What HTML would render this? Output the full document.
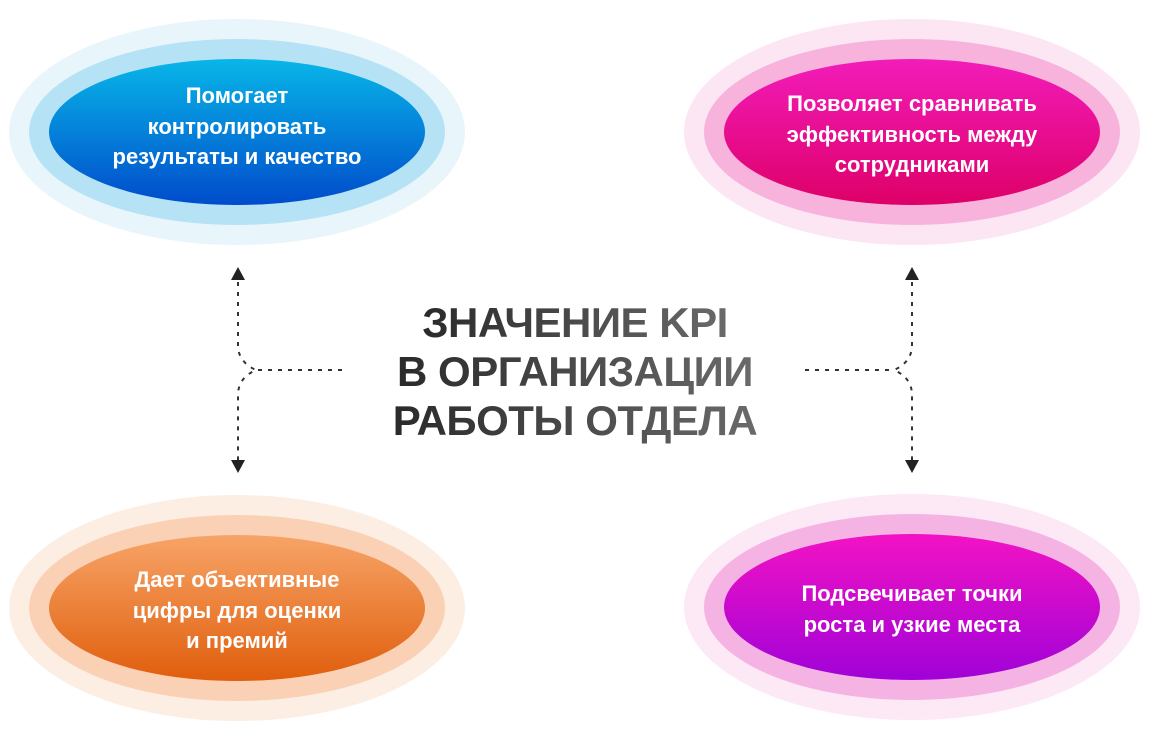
<!DOCTYPE html>
<html><head><meta charset="utf-8"><style>
html,body{margin:0;padding:0;background:#fff;}
svg{display:block;}
.t{font-family:"Liberation Sans",sans-serif;font-weight:bold;fill:#fff;font-size:22px;text-anchor:middle;}
.h{font-family:"Liberation Sans",sans-serif;font-weight:bold;font-size:42px;text-anchor:middle;letter-spacing:-0.5px;}
</style></head><body>
<svg width="1150" height="740" viewBox="0 0 1150 740">
<defs>
<linearGradient id="gb" x1="0" y1="0" x2="0" y2="1"><stop offset="0" stop-color="#08b6e8"/><stop offset="1" stop-color="#004ccb"/></linearGradient>
<linearGradient id="gp" x1="0" y1="0" x2="0" y2="1"><stop offset="0" stop-color="#f21cba"/><stop offset="1" stop-color="#de0068"/></linearGradient>
<linearGradient id="go" x1="0" y1="0" x2="0" y2="1"><stop offset="0" stop-color="#f7a468"/><stop offset="1" stop-color="#e05e0c"/></linearGradient>
<linearGradient id="gv" x1="0" y1="0" x2="0" y2="1"><stop offset="0" stop-color="#f312c4"/><stop offset="1" stop-color="#a002d8"/></linearGradient>
<linearGradient id="gt" x1="0" y1="0" x2="1" y2="0"><stop offset="0" stop-color="#2a2a2a"/><stop offset="1" stop-color="#6a6a6a"/></linearGradient>
</defs>
<ellipse cx="237" cy="132" rx="228" ry="113" fill="#e8f6fc"/>
<ellipse cx="237" cy="132" rx="208" ry="93" fill="#b5e3f5"/>
<ellipse cx="237" cy="132" rx="188" ry="73" fill="url(#gb)"/>
<text class="t" x="237" y="103">Помогает</text>
<text class="t" x="237" y="134">контролировать</text>
<text class="t" x="237" y="164">результаты и качество</text>
<ellipse cx="912" cy="132" rx="228" ry="113" fill="#fde6f3"/>
<ellipse cx="912" cy="132" rx="208" ry="93" fill="#f7b3dc"/>
<ellipse cx="912" cy="132" rx="188" ry="73" fill="url(#gp)"/>
<text class="t" x="912" y="111">Позволяет сравнивать</text>
<text class="t" x="912" y="142">эффективность между</text>
<text class="t" x="912" y="172">сотрудниками</text>
<ellipse cx="237" cy="608" rx="228" ry="113" fill="#fdeee4"/>
<ellipse cx="237" cy="608" rx="208" ry="93" fill="#fbd1b6"/>
<ellipse cx="237" cy="608" rx="188" ry="73" fill="url(#go)"/>
<text class="t" x="237" y="587">Дает объективные</text>
<text class="t" x="237" y="618">цифры для оценки</text>
<text class="t" x="237" y="648">и премий</text>
<ellipse cx="912" cy="607" rx="228" ry="113" fill="#fde8f5"/>
<ellipse cx="912" cy="607" rx="208" ry="93" fill="#f5b3e3"/>
<ellipse cx="912" cy="607" rx="188" ry="73" fill="url(#gv)"/>
<text class="t" x="912" y="601">Подсвечивает точки</text>
<text class="t" x="912" y="632">роста и узкие места</text>
<text class="h" x="575" y="337" fill="url(#gt)">ЗНАЧЕНИЕ KPI</text>
<text class="h" x="575" y="386" fill="url(#gt)">В ОРГАНИЗАЦИИ</text>
<text class="h" x="575" y="435" fill="url(#gt)">РАБОТЫ ОТДЕЛА</text>
<g fill="none" stroke="#333" stroke-width="2" stroke-dasharray="4,6">
<path d="M238 282 V345 Q238 362 256 370 Q238 378 238 395 V460"/>
<path d="M258 370 H345"/>
<path d="M912 282 V345 Q912 362 894 370 Q912 378 912 395 V460"/>
<path d="M805 370 H892"/>
</g>
<g fill="#222">
<polygon points="238,267 231,280 245,280"/>
<polygon points="238,473 231,460 245,460"/>
<polygon points="912,267 905,280 919,280"/>
<polygon points="912,473 905,460 919,460"/>
</g>
</svg>
</body></html>
